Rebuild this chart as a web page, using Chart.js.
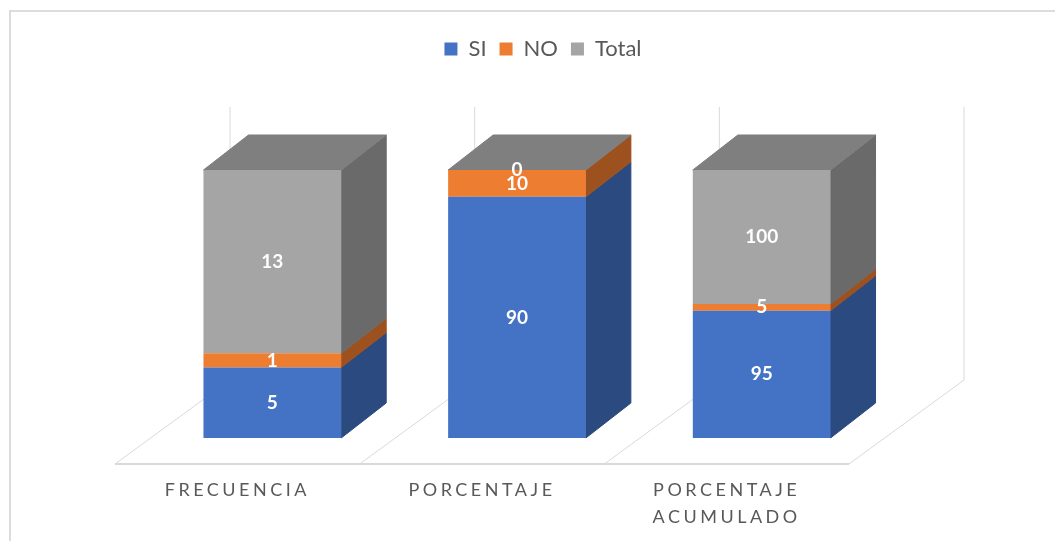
<!DOCTYPE html>
<html lang="es">
<head>
<meta charset="utf-8">
<title>Frecuencia SI / NO</title>
<script src="https://cdn.jsdelivr.net/npm/chart.js@4.4.1/dist/chart.umd.min.js"></script>
<style>
  html, body { margin: 0; padding: 0; background: #fff; }
  #wrap { position: relative; width: 1055px; height: 541px; overflow: hidden; }
  #frame { position: absolute; left: 9px; top: 10px; width: 1100px; height: 600px;
           border-left: 2px solid #dcdcdc; border-top: 2px solid #dcdcdc; }
  #chart { position: absolute; left: 0; top: 0; }
</style>
</head>
<body>
<div id="wrap">
  <div id="frame"></div>
  <canvas id="chart" width="1055" height="541"></canvas>
</div>
<script>
const categories = ['FRECUENCIA', 'PORCENTAJE', ['PORCENTAJE', 'ACUMULADO']];
const seriesNames = ['SI', 'NO', 'Total'];
const si = [5, 90, 95];
const no = [1, 10, 5];
const total = [13, 0, 100];

// 100% stacked: each column is drawn as shares of its own sum
const raw = [si, no, total];
const colSums = categories.map((_, i) => raw.reduce((s, arr) => s + arr[i], 0));
const share = (arr) => arr.map((v, i) => v / colSums[i]);

const frontColors = ['#4472C4', '#ED7D31', '#A5A5A5'];
const sideColors = ['#2B4A80', '#9C511F', '#6A6A6A'];
const topColors = ['#3A62A8', '#C9692A', '#7F7F7F'];

// oblique offsets for the fake 3D look
const DEPTH = { dx: 45, dy: -35 };        // bar depth
const FLOOR_FRONT = { dx: -35, dy: 26 };  // floor front edge vs bar front
const FLOOR_BACK = { dx: 80, dy: -58 };   // floor back edge vs bar front
const GRID = '#d9d9d9';
const PAD_TOP = 25;

function poly(ctx, pts) {
  ctx.beginPath();
  ctx.moveTo(pts[0][0], pts[0][1]);
  for (let i = 1; i < pts.length; i++) ctx.lineTo(pts[i][0], pts[i][1]);
  ctx.closePath();
}

const cube = {
  id: 'cube',
  beforeDatasetsDraw(chart) {
    const { ctx, chartArea: a, scales: { y } } = chart;
    const n = chart.data.labels.length;
    const step = (a.right - a.left) / n;
    const wallTop = y.getPixelForValue(1) + FLOOR_BACK.dy - 5;

    ctx.save();
    // floor diagonals and back wall verticals
    ctx.strokeStyle = GRID;
    ctx.lineWidth = 1;
    ctx.beginPath();
    for (let i = 0; i <= n; i++) {
      const ex = a.left + i * step;
      ctx.moveTo(ex + FLOOR_FRONT.dx, a.bottom + FLOOR_FRONT.dy);
      ctx.lineTo(ex + FLOOR_BACK.dx, a.bottom + FLOOR_BACK.dy);
      ctx.lineTo(ex + FLOOR_BACK.dx, wallTop);
    }
    ctx.stroke();
    // front edge of the floor
    ctx.lineWidth = 2;
    ctx.beginPath();
    ctx.moveTo(a.left + FLOOR_FRONT.dx, a.bottom + FLOOR_FRONT.dy);
    ctx.lineTo(a.right + FLOOR_FRONT.dx, a.bottom + FLOOR_FRONT.dy);
    ctx.stroke();

    // side faces
    ctx.lineWidth = 1;
    chart.data.datasets.forEach((ds, di) => {
      chart.getDatasetMeta(di).data.forEach(bar => {
        const p = bar.getProps(['x', 'y', 'base', 'width'], true);
        const xr = p.x + p.width / 2;
        if (Math.abs(p.base - p.y) < 0.01) return;
        ctx.fillStyle = sideColors[di];
        ctx.strokeStyle = sideColors[di];
        poly(ctx, [[xr, p.base], [xr + DEPTH.dx, p.base + DEPTH.dy], [xr + DEPTH.dx, p.y + DEPTH.dy], [xr, p.y]]);
        ctx.fill();
        ctx.stroke();
      });
    });

    // top face of the uppermost series
    const last = chart.data.datasets.length - 1;
    chart.getDatasetMeta(last).data.forEach(bar => {
      const p = bar.getProps(['x', 'y', 'width'], true);
      const xl = p.x - p.width / 2, xr = p.x + p.width / 2;
      ctx.fillStyle = topColors[last];
      ctx.strokeStyle = topColors[last];
      poly(ctx, [[xl, p.y], [xl + DEPTH.dx, p.y + DEPTH.dy], [xr + DEPTH.dx, p.y + DEPTH.dy], [xr, p.y]]);
      ctx.fill();
      ctx.stroke();
    });
    ctx.restore();
  },
  afterDatasetsDraw(chart) {
    const { ctx, chartArea: a } = chart;
    const n = chart.data.labels.length;
    const step = (a.right - a.left) / n;
    ctx.save();

    // value labels, raw numbers centred on each segment
    ctx.fillStyle = '#ffffff';
    ctx.font = 'bold 19px Lato, "Open Sans", sans-serif';
    ctx.textAlign = 'center';
    ctx.textBaseline = 'middle';
    chart.data.datasets.forEach((ds, di) => {
      chart.getDatasetMeta(di).data.forEach((bar, i) => {
        const p = bar.getProps(['x', 'y', 'base'], true);
        ctx.fillText(String(raw[di][i]), p.x, (p.y + p.base) / 2);
      });
    });

    // category names under the floor
    ctx.fillStyle = '#595959';
    ctx.font = '18px Lato, "Open Sans", sans-serif';
    ctx.letterSpacing = '3.5px';
    chart.data.labels.forEach((lab, i) => {
      const lines = Array.isArray(lab) ? lab : [lab];
      const cx = a.left + (i + 0.5) * step + FLOOR_FRONT.dx;
      lines.forEach((t, j) => ctx.fillText(t, cx, a.bottom + 52 + j * 27));
    });
    ctx.restore();
  }
};

const hidden = { grid: { display: false }, border: { display: false }, ticks: { display: false } };

const chart = new Chart(document.getElementById('chart'), {
  type: 'bar',
  data: {
    labels: categories,
    datasets: seriesNames.map((name, i) => ({
      label: name,
      data: share(raw[i]),
      backgroundColor: frontColors[i],
      borderWidth: 0,
      barPercentage: 1,
      categoryPercentage: 0.563
    }))
  },
  options: {
    responsive: false,
    animation: false,
    layout: { padding: { left: 31, right: 0, top: PAD_TOP, bottom: 103 } },
    plugins: {
      legend: {
        position: 'top',
        labels: {
          color: '#595959',
          font: { family: 'Lato, "Open Sans", sans-serif', size: 22 },
          boxWidth: 13,
          boxHeight: 13,
          padding: 13
        }
      },
      tooltip: { enabled: false }
    },
    scales: {
      x: { stacked: true, display: false },
      y: { stacked: true, min: 0, max: 1, ...hidden, afterFit: s => { s.width = 119; } },
      y2: { position: 'right', min: 0, max: 1, ...hidden, afterFit: s => { s.width = 171; } },
      xTop: {
        type: 'category', position: 'top', ...hidden,
        afterFit: s => { s.height = Math.max(0, 170 - PAD_TOP - (s.chart.legend ? s.chart.legend.height : 0)); }
      }
    }
  },
  plugins: [cube]
});
</script>
</body>
</html>
